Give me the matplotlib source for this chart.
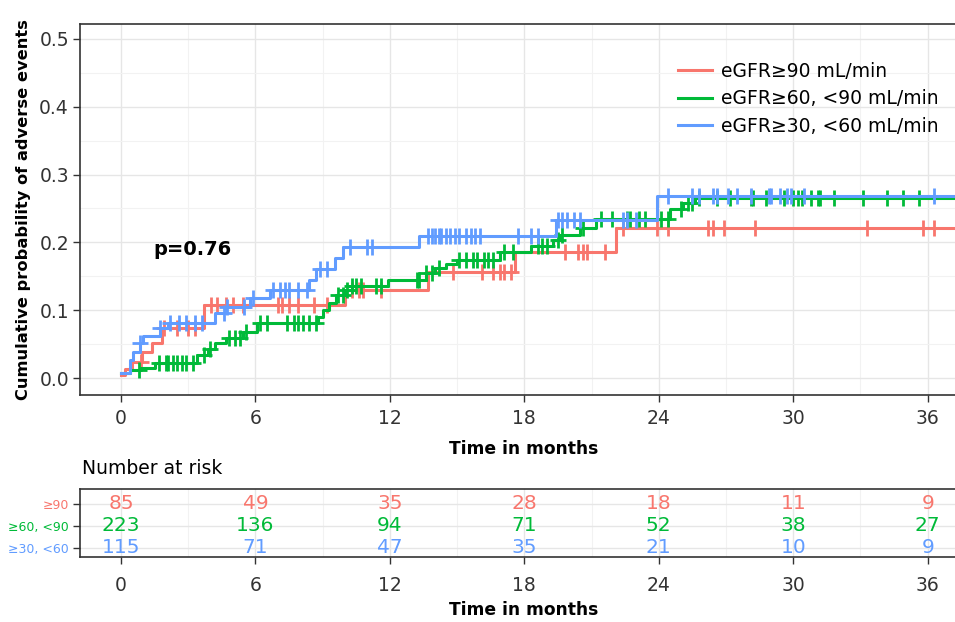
import matplotlib.pyplot as plt
import numpy as np

# step curves (time in months, cumulative probability)
red_t = [0, 0.2, 0.5, 0.95, 1.4, 1.85, 3.7, 10.0, 13.7, 17.6, 22.1]
red_p = [0.005, 0.013, 0.024, 0.038, 0.052, 0.074, 0.108, 0.130, 0.156, 0.186, 0.221]
red_cens = [0.9, 1.9, 2.5, 3.0, 3.3, 4.0, 4.3, 4.7, 5.0, 5.45, 7.0, 7.2, 7.5, 7.9, 8.6,
            9.2, 10.3, 10.6, 10.8, 11.6, 14.8, 16.1, 16.6, 16.9, 17.1, 17.4, 19.8, 20.4,
            20.6, 20.8, 21.6, 22.4, 23.9, 24.4, 26.2, 26.4, 26.9, 28.3, 33.3, 35.8, 36.3]

green_t = [0, 0.4, 0.9, 1.5, 3.4, 3.9, 4.2, 4.7, 5.45, 6.05, 8.8, 9.0, 9.3, 9.6, 10.0,
           10.3, 11.9, 13.6, 14.0, 14.5, 15.0, 16.9, 18.3, 19.3, 19.6, 20.5, 21.2, 24.5,
           25.1, 25.6]
green_p = [0.007, 0.012, 0.015, 0.022, 0.034, 0.043, 0.052, 0.059, 0.068, 0.081, 0.090,
           0.100, 0.110, 0.122, 0.130, 0.136, 0.145, 0.155, 0.162, 0.168, 0.174, 0.186,
           0.195, 0.204, 0.211, 0.221, 0.234, 0.249, 0.258, 0.265]
green_cens = [0.8, 1.7, 2.0, 2.1, 2.3, 2.5, 2.7, 2.9, 3.2, 3.7, 3.95, 4.8, 5.1, 5.3, 5.6,
              6.2, 6.5, 7.4, 7.7, 7.9, 8.1, 8.4, 8.7, 9.7, 9.9, 10.1, 10.3, 10.5, 10.7,
              11.4, 11.6, 13.2, 13.3, 13.6, 13.9, 14.2, 15.1, 15.4, 15.7, 15.9, 16.2,
              16.4, 16.6, 17.1, 17.5, 18.6, 18.8, 19.0, 19.5, 19.7, 20.6, 21.4, 21.9,
              22.6, 22.7, 23.1, 23.4, 24.1, 24.4, 25.0, 25.3, 25.5, 25.8, 26.6, 27.2,
              28.1, 28.2, 28.8, 29.6, 30.0, 30.2, 30.4, 30.8, 31.1, 31.2, 31.8, 33.1,
              34.2, 34.9, 35.6]

blue_t = [0, 0.4, 0.55, 0.85, 1.0, 1.75, 2.1, 4.2, 4.7, 5.75, 6.65, 8.4, 8.7, 9.55, 9.9,
          13.3, 19.4, 23.9]
blue_p = [0.007, 0.026, 0.038, 0.052, 0.062, 0.074, 0.081, 0.096, 0.105, 0.118, 0.130,
          0.145, 0.161, 0.177, 0.193, 0.210, 0.233, 0.268]
blue_cens = [0.85, 1.75, 2.2, 2.6, 2.9, 3.3, 3.6, 4.6, 4.75, 5.5, 5.9, 6.8, 7.1, 7.3, 7.5,
             7.9, 8.3, 8.9, 9.2, 10.2, 11.0, 11.2, 13.7, 13.9, 14.0, 14.2, 14.3, 14.5,
             14.7, 14.9, 15.1, 15.4, 15.6, 15.8, 16.0, 17.7, 18.3, 18.6, 19.5, 19.7,
             19.9, 20.2, 20.5, 22.4, 22.6, 23.0, 24.4, 25.5, 25.8, 26.4, 26.6, 27.1,
             27.5, 28.1, 28.9, 29.0, 29.4, 29.7, 29.9, 30.5, 36.3]

labels = ['eGFR≥90 mL/min', 'eGFR≥60, <90 mL/min', 'eGFR≥30, <60 mL/min']
short_labels = ['≥90', '≥60, <90', '≥30, <60']
colors = ['#F8766D', '#00BA38', '#619CFF']

risk_times = [0, 6, 12, 18, 24, 30, 36]
risk_red = [85, 49, 35, 28, 18, 11, 9]
risk_green = [223, 136, 94, 71, 52, 38, 27]
risk_blue = [115, 71, 47, 35, 21, 10, 9]

t_end = 38.0
xlim = (-1.83, 37.8)
grid_major = '#E6E6E6'
grid_minor = '#F2F2F2'
txt = '#333333'

plt.rcParams['font.family'] = ['DejaVu Sans']

fig = plt.figure(figsize=(9.55, 6.22), dpi=100)
W, H = 955, 622


def px_axes(x0, y0, x1, y1):
    return fig.add_axes([x0 / W, 1 - y1 / H, (x1 - x0) / W, (y1 - y0) / H])


def style_axes(ax):
    for s in ax.spines.values():
        s.set_color('#333333')
        s.set_linewidth(1.2)
    ax.tick_params(colors=txt, labelsize=13.5, length=5, width=1, labelcolor=txt, pad=5)
    ax.set_xlim(*xlim)
    ax.set_xticks(risk_times)
    ax.set_xticks(np.arange(3, 37, 6), minor=True)
    ax.tick_params(which='minor', length=0)
    ax.grid(True, which='major', color=grid_major, lw=1)
    ax.grid(True, which='minor', color=grid_minor, lw=0.8)
    ax.set_axisbelow(True)


ax = px_axes(80, 24, 968, 395)
style_axes(ax)
ax.set_ylim(-0.025, 0.522)
ax.set_yticks([0.0, 0.1, 0.2, 0.3, 0.4, 0.5])
ax.set_yticks([0.05, 0.15, 0.25, 0.35, 0.45], minor=True)
ax.set_yticklabels(['0.0', '0.1', '0.2', '0.3', '0.4', '0.5'])
ax.tick_params(axis='y', pad=3)

series = [(red_t, red_p, red_cens), (green_t, green_p, green_cens), (blue_t, blue_p, blue_cens)]
for (t, p, cens), col, lab in zip(series, colors, labels):
    tt = list(t) + [t_end]
    pp = list(p) + [p[-1]]
    ax.step(tt, pp, where='post', color=col, lw=2.2, label=lab)
    idx = np.searchsorted(t, cens, side='right') - 1
    ax.plot(cens, np.array(p)[idx], ls='none', marker='+', ms=12, mew=2, color=col)

ax.set_xlabel('Time in months', fontsize=12.3, fontweight='bold', color='black', labelpad=9)
ax.set_ylabel('Cumulative probability of adverse events', fontsize=11.7, fontweight='bold',
              color='black', labelpad=6)
ax.text(1.43, 0.19, 'p=0.76', fontsize=14, fontweight='bold', va='center', ha='left')

leg = ax.legend(loc='upper left', bbox_to_anchor=(661 / W, 1 - 45 / H),
                bbox_transform=fig.transFigure, frameon=False, fontsize=13.5,
                handlelength=1.8, handletextpad=0.5, labelspacing=0.45)

# number at risk table
fig.text(82 / W, 1 - 468 / H, 'Number at risk', fontsize=13.5, va='center', ha='left')
tab = px_axes(80, 489, 968, 557)
style_axes(tab)
tab.set_ylim(0.59, 3.68)
tab.set_yticks([3, 2, 1])
tab.set_yticklabels(short_labels)
tab.tick_params(axis='y', labelsize=9, pad=3)
tab.tick_params(axis='x', pad=9)
for lbl, col in zip(tab.get_yticklabels(), colors):
    lbl.set_color(col)
for counts, row, col in zip([risk_red, risk_green, risk_blue], [3, 2, 1], colors):
    for tm, n in zip(risk_times, counts):
        tab.text(tm, row, str(n), color=col, fontsize=14.5, ha='center', va='center')
tab.set_xlabel('Time in months', fontsize=12.3, fontweight='bold', color='black', labelpad=4)

fig.savefig('out.png', dpi=100)
